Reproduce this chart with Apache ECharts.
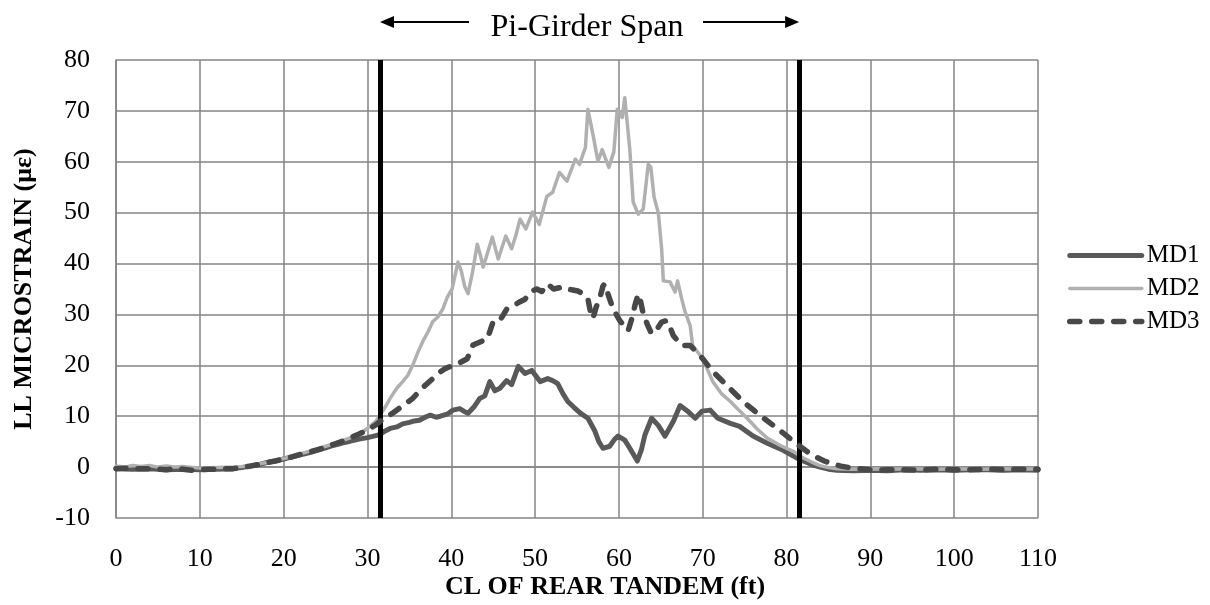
<!DOCTYPE html>
<html>
<head>
<meta charset="utf-8">
<script src="https://cdn.jsdelivr.net/npm/echarts@6/dist/echarts.min.js"></script>
<style>
  html, body { margin: 0; padding: 0; background: #ffffff; }
  #chart { width: 1210px; height: 605px; }
</style>
</head>
<body>
<div id="chart"></div>
<script>
// Position of the rear tandem centreline (ft) and live-load microstrain per gauge
const md1X = [0, 2, 4, 6, 8, 10, 12, 14, 15, 16, 17, 18, 19, 20, 21, 22, 23, 24, 25, 26, 27, 28, 29, 30, 31, 31.5, 32, 32.7, 33.5, 34.2, 35, 35.4, 36.2, 37, 37.5, 38.2, 38.7, 39.5, 40.2, 41, 41.5, 42, 42.7, 43.4, 44, 44.6, 45.2, 45.8, 46.6, 47.2, 48, 48.8, 49.6, 50.6, 51.5, 52.1, 52.7, 53.3, 53.9, 54.6, 55.4, 56.3, 57.1, 57.6, 58.1, 58.9, 59.5, 59.9, 60.7, 61.3, 62.2, 62.7, 63.1, 63.9, 64.7, 65.5, 66.5, 67.3, 68.2, 69.1, 69.9, 70.9, 71.8, 73.3, 74.4, 76, 77.7, 79.6, 81.2, 82, 83, 84, 85, 86, 88, 90, 92, 94, 96, 98, 100, 102, 104, 106, 108, 110];
const md1Y = [-0.3, -0.4, -0.3, -0.5, -0.4, -0.5, -0.4, -0.3, -0.1, 0.2, 0.5, 0.9, 1.2, 1.6, 2.0, 2.4, 2.8, 3.3, 3.8, 4.3, 4.7, 5.1, 5.5, 5.8, 6.2, 6.4, 7.0, 7.6, 7.9, 8.5, 8.8, 9.0, 9.2, 9.9, 10.2, 9.8, 10.0, 10.4, 11.2, 11.5, 11.0, 10.6, 11.8, 13.5, 14.0, 16.8, 15.0, 15.5, 17.0, 16.2, 19.8, 18.4, 19.0, 16.8, 17.4, 17.0, 16.4, 14.5, 12.9, 11.8, 10.6, 9.6, 7.2, 5.0, 3.7, 4.1, 5.5, 6.1, 5.3, 3.7, 1.2, 3.5, 6.3, 9.6, 8.2, 6.1, 9.0, 12.1, 11.0, 9.6, 11.0, 11.2, 9.6, 8.6, 8.0, 6.1, 4.7, 3.3, 1.8, 1.2, 0.5, 0.0, -0.4, -0.6, -0.7, -0.6, -0.7, -0.5, -0.6, -0.5, -0.6, -0.5, -0.5, -0.6, -0.5, -0.6];

const md2X = [0, 1, 2, 3, 4, 5, 6, 7, 8, 10, 12, 14, 15, 16, 17, 18, 19, 20, 21, 22, 23, 24, 25, 26, 27, 28, 29, 30, 31, 31.5, 32.2, 32.7, 33.5, 34.2, 34.8, 35.4, 36, 36.6, 37.2, 37.8, 38.4, 39, 39.5, 40.1, 40.5, 40.8, 41.2, 41.6, 42, 42.5, 43.1, 43.5, 43.8, 44.4, 44.9, 45.6, 46.5, 47.2, 47.7, 48.2, 48.9, 49.7, 50.5, 51.4, 52.1, 52.9, 53.8, 54.8, 55.3, 56, 56.3, 56.9, 57.5, 58, 58.8, 59.4, 59.8, 60.4, 60.7, 61.3, 61.7, 62.3, 62.9, 63.5, 63.8, 64.2, 64.7, 65.1, 65.3, 66.1, 66.7, 67, 67.5, 67.9, 68.5, 68.8, 70, 71.2, 72.2, 73.3, 74.3, 75.3, 76.5, 77.7, 79.2, 80.8, 82, 83, 84, 85, 86, 88, 90, 92, 95, 98, 100, 103, 106, 108, 110];
const md2Y = [0.2, 0.0, 0.3, 0.1, 0.3, 0.0, 0.2, 0.0, 0.1, -0.2, -0.1, 0.0, 0.1, 0.3, 0.6, 0.9, 1.3, 1.7, 2.1, 2.6, 3.1, 3.6, 4.1, 4.6, 5.2, 5.8, 6.5, 7.6, 9.0, 10.2, 12.0, 13.5, 15.5, 16.8, 18.0, 20.0, 22.5, 24.7, 26.5, 28.6, 29.5, 31.1, 33.3, 35.0, 38.0, 40.3, 38.5, 35.5, 34.1, 38.0, 43.8, 41.5, 39.3, 42.5, 45.2, 40.9, 45.4, 42.9, 45.5, 48.7, 46.8, 50.1, 47.7, 53.2, 54.0, 57.9, 56.2, 60.5, 59.5, 62.8, 70.3, 65.4, 60.1, 62.4, 58.9, 62.0, 70.3, 68.7, 72.6, 62.4, 52.1, 49.7, 50.7, 59.5, 59.0, 53.0, 50.0, 42.9, 36.6, 36.4, 34.4, 36.6, 33.0, 30.5, 27.8, 23.9, 21.3, 16.8, 14.5, 12.9, 11.2, 9.6, 7.5, 5.7, 4.3, 3.1, 1.8, 1.0, 0.3, -0.1, -0.3, -0.4, -0.3, -0.4, -0.3, -0.4, -0.3, -0.4, -0.3, -0.4, -0.3];

const md3X = [0, 1, 2, 3, 4, 5, 6, 7, 8, 9, 10, 11, 12, 13, 14, 15, 16, 17, 18, 19, 20, 21, 22, 23, 24, 25, 26, 27, 28, 29, 30, 31, 31.5, 32.2, 33, 34, 35, 35.4, 36.5, 37.8, 38.5, 39.2, 40.2, 41, 41.9, 42.6, 43.3, 44.3, 45, 45.8, 46.6, 47.2, 48.2, 48.8, 49.5, 50.2, 50.8, 51.5, 52.2, 53.3, 53.8, 54.5, 55.1, 55.8, 56.3, 56.6, 56.9, 57.3, 57.7, 58.1, 58.3, 58.7, 59.3, 60.1, 60.6, 61.1, 61.6, 61.9, 62.3, 62.6, 62.9, 63.4, 63.9, 64.5, 65.1, 65.7, 66.1, 66.5, 67.5, 68.5, 69.7, 71.2, 72.9, 74.8, 76.8, 78.9, 80.8, 81.5, 82.5, 83.5, 84.5, 85.5, 86.5, 87.5, 88.5, 90, 91, 92, 94, 96, 98, 100, 102, 104, 106, 108, 110];
const md3Y = [-0.3, -0.2, -0.4, -0.3, -0.3, -0.4, -0.5, -0.3, -0.4, -0.6, -0.5, -0.4, -0.4, -0.3, -0.3, -0.1, 0.2, 0.5, 0.9, 1.2, 1.6, 2.0, 2.5, 2.9, 3.4, 3.9, 4.5, 5.1, 5.8, 6.5, 7.3, 8.3, 9.0, 9.8, 10.6, 11.8, 13.0, 13.5, 15.5, 17.4, 18.5, 19.3, 20.0, 20.5, 21.3, 24.0, 24.5, 25.2, 28.6, 28.8, 31.0, 31.5, 32.5, 33.0, 34.5, 35.0, 34.5, 36.0, 35.0, 35.4, 35.0, 34.8, 34.6, 34.0, 33.1, 30.5, 29.2, 31.5, 33.1, 35.6, 36.0, 34.0, 31.1, 28.8, 27.8, 26.8, 29.5, 31.7, 34.0, 32.5, 30.1, 28.0, 26.2, 27.0, 28.5, 28.8, 27.5, 25.8, 23.9, 23.9, 21.9, 18.8, 16.0, 12.9, 10.2, 7.6, 5.1, 4.2, 3.0, 2.0, 1.2, 0.6, 0.2, -0.1, -0.3, -0.5, -0.6, -0.5, -0.5, -0.6, -0.4, -0.5, -0.5, -0.4, -0.5, -0.4, -0.4];

// Pi-girder span limits (ft)
const spanStart = 31.5;
const spanEnd = 81.5;

const seriesNames = ['MD1', 'MD2', 'MD3'];

const FONT = '"Liberation Serif", "Times New Roman", serif';
const GRID = '#858585';

function pairs(xs, ys) { return xs.map((x, i) => [x, ys[i]]); }

const chart = echarts.init(document.getElementById('chart'), null, { renderer: 'canvas' });

const option = {
  animation: false,
  backgroundColor: '#ffffff',
  grid: { left: 116, right: 172, top: 60, bottom: 87, containLabel: false },
  xAxis: {
    type: 'value', min: 0, max: 110, interval: 10,
    axisLine: { show: true, lineStyle: { color: GRID, width: 1.5 } },
    axisTick: { show: false },
    splitLine: { show: true, lineStyle: { color: GRID, width: 1.5 } },
    axisLabel: { color: '#000', fontFamily: FONT, fontSize: 26, margin: 28 }
  },
  yAxis: {
    type: 'value', min: -10, max: 80, interval: 10,
    axisLine: { show: true, onZero: false, lineStyle: { color: GRID, width: 1.5 } },
    axisTick: { show: false },
    splitLine: { show: true, lineStyle: { color: GRID, width: 1.5 } },
    axisLabel: { color: '#000', fontFamily: FONT, fontSize: 26, margin: 26 }
  },
  legend: {
    orient: 'vertical', left: 1062, top: 238,
    itemWidth: 72, itemHeight: 12, itemGap: 8,
    itemStyle: { opacity: 0 },
    lineStyle: { width: 'inherit', type: 'inherit', cap: 'round' },
    textStyle: { color: '#000', fontFamily: FONT, fontSize: 25 },
    data: seriesNames
  },
  series: [
    {
      name: seriesNames[0], type: 'line', showSymbol: false, symbol: 'none',
      data: pairs(md1X, md1Y), z: 3,
      lineStyle: { color: '#595959', width: 5, join: 'round', cap: 'round' },
      itemStyle: { color: '#595959' }
    },
    {
      name: seriesNames[1], type: 'line', showSymbol: false, symbol: 'none',
      data: pairs(md2X, md2Y), z: 4,
      lineStyle: { color: '#b0b0b0', width: 3.5, join: 'round', cap: 'round' },
      itemStyle: { color: '#b0b0b0' }
    },
    {
      name: seriesNames[2], type: 'line', showSymbol: false, symbol: 'none',
      data: pairs(md3X, md3Y), z: 5,
      lineStyle: { color: '#484848', width: 5.5, type: [10, 12], cap: 'round', join: 'round' },
      itemStyle: { color: '#484848' }
    },
    {
      name: 'span', type: 'line', data: [], z: 10, silent: true,
      markLine: {
        silent: true, symbol: ['none', 'none'], animation: false,
        label: { show: false },
        lineStyle: { color: '#000', width: 5, type: 'solid' },
        data: [{ xAxis: spanStart }, { xAxis: spanEnd }]
      }
    }
  ]
};
chart.setOption(option);

// Axis titles, span annotation and its arrows placed from the axis scale
const xa = chart.convertToPixel({ xAxisIndex: 0 }, spanStart);
const xb = chart.convertToPixel({ xAxisIndex: 0 }, spanEnd);
const yMid = (chart.convertToPixel({ yAxisIndex: 0 }, -10) + chart.convertToPixel({ yAxisIndex: 0 }, 80)) / 2;
const labelX = 587;
const arrowY = 22;
const head = 14;

chart.setOption({
  graphic: [
    {
      type: 'text', left: 'center', top: 574,
      style: { text: 'CL OF REAR TANDEM (ft)', font: 'bold 26px ' + FONT, fill: '#000' }
    },
    {
      type: 'text', x: 24, y: yMid, rotation: Math.PI / 2,
      style: { text: 'LL MICROSTRAIN (με)', font: 'bold 26px ' + FONT, fill: '#000', align: 'center', verticalAlign: 'middle' }
    },
    {
      type: 'text', x: labelX, y: 28,
      style: { text: 'Pi-Girder Span', font: '32px ' + FONT, fill: '#000', align: 'center', verticalAlign: 'middle' }
    },
    { type: 'line', shape: { x1: xa + head, y1: arrowY, x2: 469, y2: arrowY }, style: { stroke: '#000', lineWidth: 2 } },
    { type: 'polygon', shape: { points: [[xa, arrowY], [xa + head, arrowY - 6], [xa + head, arrowY + 6]] }, style: { fill: '#000' } },
    { type: 'line', shape: { x1: 703, y1: arrowY, x2: xb - head, y2: arrowY }, style: { stroke: '#000', lineWidth: 2 } },
    { type: 'polygon', shape: { points: [[xb, arrowY], [xb - head, arrowY - 6], [xb - head, arrowY + 6]] }, style: { fill: '#000' } }
  ]
});
</script>
</body>
</html>
